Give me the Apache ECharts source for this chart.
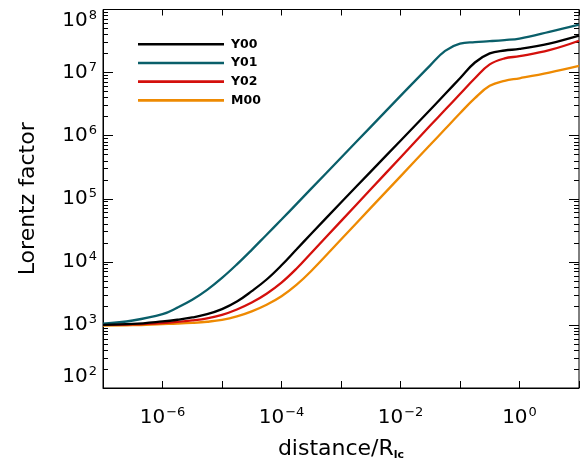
<!DOCTYPE html>
<html>
<head>
<meta charset="utf-8">
<script src="https://cdn.jsdelivr.net/npm/echarts@6/dist/echarts.min.js"></script>
<style>html,body{margin:0;padding:0;background:#fff;}#c{width:584px;height:466px;}</style>
</head>
<body>
<div id="c"></div>
<script>
// distance / R_lc sample positions
var distance = [1e-7, 3.16e-7, 1e-6, 1.78e-6, 3.16e-6, 5.62e-6, 1e-5, 1.78e-5, 3.16e-5, 5.62e-5,
                1e-4, 1.78e-4, 3.16e-4, 1e-3, 3.16e-3, 1e-2, 3.16e-2, 5.62e-2, 0.1, 0.178,
                0.316, 0.562, 1, 3.16, 10];
// Lorentz factor per model
var Y00 = [1000, 1035, 1135, 1208, 1312, 1479, 1778, 2344, 3428, 5248,
           8810, 15670, 27860, 87100, 269200, 831800, 2.57e6, 4.571e6, 8.128e6, 1.445e7,
           2.018e7, 2.239e7, 2.371e7, 2.884e7, 3.846e7];
var Y01 = [1047, 1175, 1480, 1880, 2500, 3589, 5559, 9120, 15490, 26920,
           46770, 82220, 144500, 446700, 1.38e6, 4.266e6, 1.303e7, 2.213e7, 2.884e7, 3.041e7,
           3.148e7, 3.281e7, 3.467e7, 4.416e7, 5.754e7];
var Y02 = [1000, 1019, 1072, 1117, 1180, 1274, 1445, 1758, 2265, 3126,
           4677, 7762, 13800, 44160, 141300, 451900, 1.445e6, 2.57e6, 4.571e6, 8.128e6,
           1.349e7, 1.679e7, 1.82e7, 2.265e7, 3.199e7];
var M00 = [977, 989, 1028, 1047, 1076, 1122, 1202, 1365, 1641, 2089,
           2851, 4315, 7161, 22650, 71610, 226500, 716100, 1.274e6, 2.265e6, 3.936e6,
           6.166e6, 7.413e6, 8.128e6, 1.0e7, 1.276e7];

var seriesNames = ['Y00', 'Y01', 'Y02', 'M00'];
var seriesColors = ['#000000', '#0a5f6a', '#d4100c', '#ee8a02'];
var seriesValues = [Y00, Y01, Y02, M00];

// tick labels
var xLabelValues = [1e-6, 1e-4, 1e-2, 1];
var yLabelValues = [1e3, 1e4, 1e5, 1e6, 1e7];
var yTopLabel = [1e8];
var yBottomLabel = [1e2];
var yMinorTicks = [];
for (var d = 2; d < 8; d++) {
  for (var m = 2; m <= 9; m++) yMinorTicks.push(m * Math.pow(10, d));
}

var FONT = 'DejaVu Sans, Liberation Sans, sans-serif';
function sup(v) {
  var e = Math.round(Math.log10(v));
  var s = (e < 0 ? '\u2212' + (-e) : '' + e);
  return '{b|10}{s|' + s + '}';
}
var labelRich = {
  b: { fontSize: 20, fontFamily: FONT, color: '#000' },
  s: { fontSize: 13, fontFamily: FONT, color: '#000', padding: [0, 0, 10, 1] }
};

function pairs(vals) {
  return distance.map(function (x, i) { return [x, vals[i]]; });
}

var XMIN = 1e-7, XMAX = 10, YMIN = 1e2, YMAX = 1e8;

function yAx(opts) {
  var base = {
    type: 'log', logBase: 10, min: YMIN, max: YMAX, interval: 1,
    position: 'left',
    axisLine: { show: false },
    splitLine: { show: false },
    axisTick: { show: false },
    axisLabel: { show: false },
    minorTick: { show: false }
  };
  return Object.assign(base, opts);
}

var option = {
  animation: false,
  backgroundColor: '#fff',
  grid: { left: 103, right: 5, top: 9.5, bottom: 77, show: true, borderColor: '#000', borderWidth: 1, backgroundColor: 'transparent' },
  legend: {
    data: seriesNames.map(function (n) { return { name: n, icon: 'rect' }; }),
    orient: 'vertical',
    left: 133, top: 32,
    itemWidth: 86, itemHeight: 2.6, itemGap: 4.2,
    textStyle: { fontSize: 12.5, fontWeight: 'bold', fontFamily: FONT, color: '#000', padding: [0, 0, 0, 2], lineHeight: 14.5 },
    selectedMode: false
  },
  xAxis: [
    {
      type: 'log', logBase: 10, min: XMIN, max: XMAX, interval: 1,
      position: 'bottom',
      axisLine: { show: true, lineStyle: { color: '#000', width: 1 } },
      axisTick: { show: true, inside: true, length: 7, lineStyle: { color: '#000', width: 1 } },
      splitLine: { show: false },
      axisLabel: { customValues: xLabelValues, formatter: sup, rich: labelRich, margin: 18 },
      name: '{a|distance/R}{sub|lc}',
      nameLocation: 'middle', nameGap: 50,
      nameTextStyle: {
        rich: {
          a: { fontSize: 22, fontFamily: FONT, color: '#000' },
          sub: { fontSize: 11, fontWeight: 'bold', fontFamily: FONT, color: '#000', padding: [12, 0, 0, 0] }
        }
      }
    },
    {
      type: 'log', logBase: 10, min: XMIN, max: XMAX, interval: 1,
      position: 'top',
      axisLine: { show: false },
      axisTick: { show: true, inside: true, length: 6, lineStyle: { color: '#000', width: 1 } },
      splitLine: { show: false },
      axisLabel: { show: false }
    }
  ],
  yAxis: [
    yAx({
      axisLine: { show: true, lineStyle: { color: '#000', width: 1 } },
      axisTick: { show: true, inside: true, length: 10, lineStyle: { color: '#000', width: 1 } },
      axisLabel: { show: true, customValues: yLabelValues, formatter: sup, rich: labelRich, margin: 6 },
      name: 'Lorentz factor', nameLocation: 'middle', nameGap: 64,
      nameTextStyle: { fontSize: 22, fontFamily: FONT, color: '#000' }
    }),
    yAx({ axisLabel: { show: true, customValues: yTopLabel, formatter: sup, rich: labelRich, margin: 6, verticalAlign: 'top' } }),
    yAx({ axisLabel: { show: true, customValues: yBottomLabel, formatter: sup, rich: labelRich, margin: 6, verticalAlign: 'bottom' } }),
    yAx({ axisTick: { show: true, inside: true, length: 5, customValues: yMinorTicks, lineStyle: { color: '#000', width: 1 } } }),
    yAx({ position: 'right', axisTick: { show: true, inside: true, length: 10, lineStyle: { color: '#000', width: 1 } } }),
    yAx({ position: 'right', axisTick: { show: true, inside: true, length: 5, customValues: yMinorTicks, lineStyle: { color: '#000', width: 1 } } })
  ],
  series: seriesNames.map(function (n, i) {
    return {
      name: n, type: 'line', xAxisIndex: 0, yAxisIndex: 0,
      data: pairs(seriesValues[i]),
      smooth: 0.4,
      symbol: 'none',
      lineStyle: { color: seriesColors[i], width: 2.3 },
      itemStyle: { color: seriesColors[i] },
      z: 4 - i
    };
  })
};

var chart = echarts.init(document.getElementById('c'), null, { renderer: 'canvas' });
chart.setOption(option);
</script>
</body>
</html>
